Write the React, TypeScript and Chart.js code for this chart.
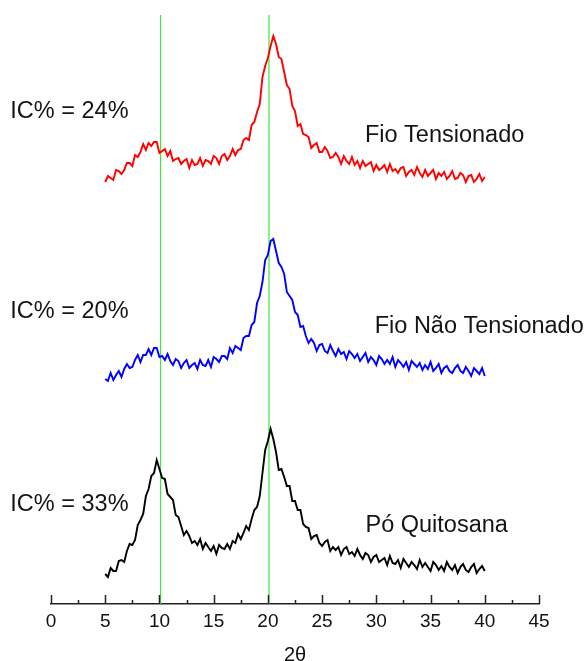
import { useEffect, useRef } from "react";
import { Chart, registerables } from "chart.js";

Chart.register(...registerables);

// 2θ sampling positions (degrees)
const twoTheta: number[] = [
  5, 5.25, 5.5, 5.75, 6, 6.25, 6.5, 6.75, 7, 7.25, 7.5, 7.75, 8, 8.25, 8.5, 8.75, 9, 9.25, 9.5, 9.75,
  10, 10.25, 10.5, 10.75, 11, 11.25, 11.5, 11.75, 12, 12.25, 12.5, 12.75, 13, 13.25, 13.5, 13.75, 14, 14.25, 14.5, 14.75,
  15, 15.25, 15.5, 15.75, 16, 16.25, 16.5, 16.75, 17, 17.25, 17.5, 17.75, 18, 18.25, 18.5, 18.75, 19, 19.25, 19.5, 19.75,
  20, 20.25, 20.5, 20.75, 21, 21.25, 21.5, 21.75, 22, 22.25, 22.5, 22.75, 23, 23.25, 23.5, 23.75, 24, 24.25, 24.5, 24.75,
  25, 25.25, 25.5, 25.75, 26, 26.25, 26.5, 26.75, 27, 27.25, 27.5, 27.75, 28, 28.25, 28.5, 28.75, 29, 29.25, 29.5, 29.75,
  30, 30.25, 30.5, 30.75, 31, 31.25, 31.5, 31.75, 32, 32.25, 32.5, 32.75, 33, 33.25, 33.5, 33.75, 34, 34.25, 34.5, 34.75,
  35, 35.25, 35.5, 35.75, 36, 36.25, 36.5, 36.75, 37, 37.25, 37.5, 37.75, 38, 38.25, 38.5, 38.75, 39, 39.25, 39.5, 39.75,
  40,
];

// Offset intensities (arbitrary units)
const fioTensionado: number[] = [
  418, 424, 422, 420, 430, 429, 426, 430, 437, 437,
  434, 445, 443, 448, 456, 450, 457, 454, 458, 458,
  447, 449, 451, 444, 449, 439, 441, 442, 436, 439,
  441, 432, 440, 435, 436, 442, 434, 440, 439, 436,
  444, 442, 436, 444, 446, 440, 444, 451, 445, 450,
  451, 460, 462, 460, 475, 478, 488, 496, 523, 534,
  542, 554, 564, 556, 543, 541, 528, 515, 511, 494,
  489, 474, 476, 466, 465, 463, 452, 455, 457, 448,
  448, 453, 449, 442, 443, 447, 443, 436, 444, 439,
  436, 443, 435, 439, 432, 439, 434, 436, 438, 429,
  435, 430, 432, 435, 428, 436, 429, 431, 427, 432,
  433, 424, 428, 430, 425, 433, 427, 423, 430, 424,
  427, 430, 421, 427, 424, 428, 421, 424, 429, 421,
  422, 427, 425, 418, 424, 425, 418, 421, 426, 419, 423,
];

const fioNaoTensionado: number[] = [
  221, 219, 227, 220, 225, 229, 223, 231, 236, 232,
  233, 240, 245, 238, 245, 245, 251, 245, 252, 252,
  243, 244, 240, 246, 239, 235, 241, 239, 232, 237,
  240, 232, 235, 237, 231, 240, 235, 234, 240, 233,
  243, 241, 238, 244, 244, 241, 252, 247, 254, 252,
  250, 262, 264, 264, 275, 278, 297, 304, 318, 340,
  345, 359, 361, 349, 337, 333, 326, 308, 304, 300,
  288, 285, 273, 274, 264, 257, 261, 257, 249, 255,
  256, 249, 247, 255, 249, 244, 251, 246, 248, 241,
  249, 246, 242, 246, 239, 243, 247, 238, 243, 240,
  235, 244, 241, 236, 240, 236, 243, 233, 240, 237,
  233, 238, 230, 239, 236, 233, 237, 230, 235, 231,
  238, 229, 232, 236, 227, 232, 234, 229, 227, 232,
  235, 229, 227, 233, 229, 224, 232, 229, 226, 232, 224,
];

const poQuitosana: number[] = [
  26, 23, 32, 29, 29, 39, 40, 38, 49, 56,
  55, 60, 75, 80, 86, 104, 111, 124, 127, 140,
  131, 122, 121, 106, 103, 100, 85, 83, 74, 65,
  69, 64, 57, 59, 55, 61, 51, 57, 53, 49,
  54, 46, 55, 52, 51, 56, 51, 59, 57, 66,
  61, 67, 74, 70, 81, 90, 93, 104, 127, 150,
  159, 171, 161, 148, 130, 131, 123, 114, 114, 99,
  99, 90, 90, 76, 73, 72, 61, 64, 65, 57,
  54, 58, 60, 49, 53, 50, 53, 45, 51, 53,
  46, 48, 44, 51, 45, 41, 47, 45, 38, 43,
  45, 38, 40, 42, 35, 44, 37, 36, 40, 32,
  41, 37, 33, 38, 35, 31, 40, 33, 37, 33,
  29, 38, 35, 30, 34, 29, 38, 33, 30, 35,
  27, 33, 36, 30, 28, 33, 36, 27, 31, 34, 29,
];

const seriesNames: string[] = ["Fio Tensionado", "Fio Não Tensionado", "Pó Quitosana"];
const seriesColors: string[] = ["#ff0000", "#0000ff", "#000000"];
const seriesValues: number[][] = [fioTensionado, fioNaoTensionado, poQuitosana];

const crystallinity: string[] = ["IC% = 24%", "IC% = 20%", "IC% = 33%"];

// Vertical reference lines (2θ)
const referenceLines: number[] = [10.1, 20.1];

const xTicks: number[] = [0, 5, 10, 15, 20, 25, 30, 35, 40, 45];

const FONT = "'Liberation Sans', Arial, Helvetica, sans-serif";

// text annotation anchors in data coordinates
const annotations = [
  { text: crystallinity[0], x: -3.75, y: 482 },
  { text: seriesNames[0], x: 28.95, y: 458 },
  { text: crystallinity[1], x: -3.75, y: 282 },
  { text: seriesNames[1], x: 29.85, y: 267 },
  { text: crystallinity[2], x: -3.75, y: 89 },
  { text: seriesNames[2], x: 29.0, y: 68 },
];

const Y_MIN = -4;
const Y_MAX = 585;

const overlayPlugin = {
  id: "overlay",
  afterDraw(chart: any) {
    const { ctx, chartArea, scales } = chart;
    const xs = scales.x;
    const ys = scales.y;
    const axisY = chartArea.bottom;
    ctx.save();
    ctx.strokeStyle = "#222";
    ctx.lineWidth = 1.5;
    for (let v = 0; v <= 45; v += 2.5) {
      const px = Math.round(xs.getPixelForValue(v)) + 0.5;
      const major = v % 5 === 0;
      ctx.beginPath();
      ctx.moveTo(px, axisY);
      ctx.lineTo(px, axisY - (major ? 9 : 4));
      ctx.stroke();
    }
    ctx.fillStyle = "#141414";
    ctx.font = `23.5px ${FONT}`;
    ctx.textAlign = "left";
    ctx.textBaseline = "alphabetic";
    for (const a of annotations) {
      ctx.fillText(a.text, xs.getPixelForValue(a.x), ys.getPixelForValue(a.y));
    }
    ctx.restore();
  },
};

export default function App() {
  const canvasRef = useRef<HTMLCanvasElement | null>(null);

  useEffect(() => {
    if (!canvasRef.current) return;
    const datasets: any[] = seriesValues.map((vals, i) => ({
      label: seriesNames[i],
      data: vals.map((v, k) => ({ x: twoTheta[k], y: v })),
      borderColor: seriesColors[i],
      borderWidth: 1.9,
      pointRadius: 0,
      tension: 0,
      fill: false,
    }));
    referenceLines.forEach((v) => {
      datasets.push({
        label: `ref ${v}`,
        data: [
          { x: v, y: Y_MIN },
          { x: v, y: Y_MAX },
        ],
        borderColor: "#3be83b",
        borderWidth: 1.2,
        pointRadius: 0,
        fill: false,
      });
    });

    const chart = new Chart(canvasRef.current, {
      type: "line",
      data: { datasets },
      options: {
        animation: false,
        responsive: true,
        maintainAspectRatio: false,
        layout: { padding: { top: 15, left: 51, right: 46, bottom: 0 } },
        plugins: {
          legend: { display: false },
          tooltip: { enabled: false },
        },
        scales: {
          x: {
            type: "linear",
            min: 0,
            max: 45,
            afterFit: (s: any) => {
              s.height = 57;
            },
            afterBuildTicks: (s: any) => {
              s.ticks = xTicks.map((v) => ({ value: v }));
            },
            ticks: {
              color: "#111",
              font: { family: FONT, size: 19 },
              padding: 6,
              maxRotation: 0,
              autoSkip: false,
            },
            grid: { display: false, drawTicks: false, tickLength: 0 },
            border: { display: true, color: "#222", width: 1.5 },
            title: {
              display: true,
              text: "2θ",
              color: "#111",
              font: { family: FONT, size: 20, lineHeight: 0.6 },
              padding: { top: 0, bottom: 0 },
            },
          },
          y: {
            type: "linear",
            display: false,
            min: Y_MIN,
            max: Y_MAX,
          },
        },
      },
      plugins: [overlayPlugin],
    });
    return () => chart.destroy();
  }, []);

  return (
    <div style={{ position: "fixed", left: 0, top: 0, width: 585, height: 661, background: "#fff" }}>
      <canvas ref={canvasRef} />
    </div>
  );
}
